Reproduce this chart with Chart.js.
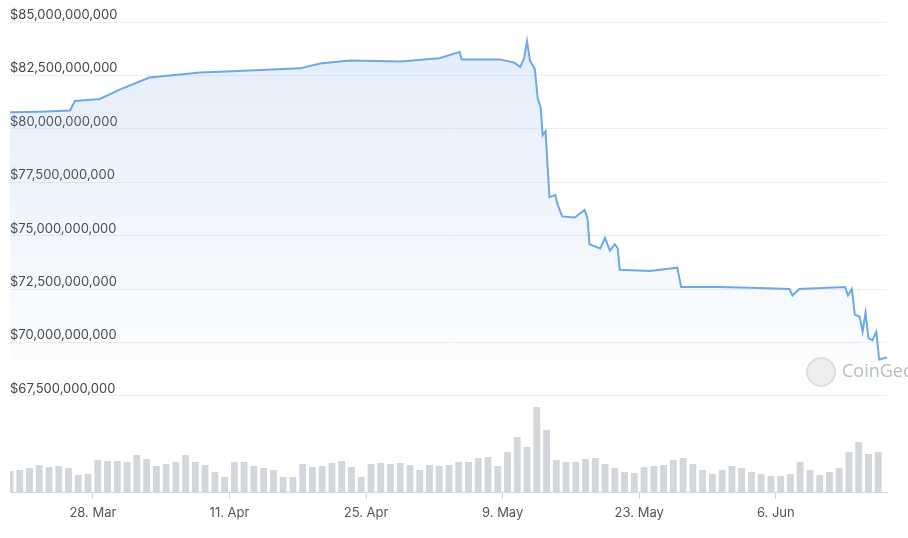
<!DOCTYPE html>
<html>
<head>
<meta charset="utf-8">
<script src="https://cdn.jsdelivr.net/npm/chart.js@4"></script>
<style>
  body { margin: 0; background: #fff; overflow: hidden; }
  #wrap { position: relative; width: 908px; height: 538px; }
  .wm { position: absolute; left: 806px; top: 357px; color: #b9bcc0; font: 18px "Open Sans", sans-serif; white-space: nowrap; }
  .wm span.logo { display: inline-block; width: 26px; height: 26px; border-radius: 50%; border: 2px solid #dcdee0; background: #eceeef; vertical-align: middle; margin-right: 6px; }
</style>
</head>
<body>
<div id="wrap">
  <canvas id="c" width="908" height="538"></canvas>
  <div class="wm"><span class="logo"></span>CoinGecko</div>
</div>
<script>
// day 0 = 19 Mar, 12:00
const priceDays = [0, 3.07, 6.15, 6.66, 9.2, 11.3, 14.3, 19.5, 24.6, 29.7, 31.8, 34.8, 40, 44, 46.1, 46.3, 50.2, 51.7, 52.3, 52.7, 53, 53.3, 53.8,
  54.1, 54.4, 54.6, 54.9, 55.1, 55.3, 55.9, 56.1, 56.6, 57.9, 58.9, 59.2, 59.4, 60.5, 61, 61.5, 62, 62.3, 62.5, 65.6, 68.4, 68.8,
  72.7, 76.8, 79.9, 80.2, 80.9, 85.6, 85.9, 86.3, 86.6, 87.1, 87.4, 87.7, 88, 88.4, 88.8, 89.1, 89.9];
const priceValues = [80.77, 80.8, 80.86, 81.3, 81.4, 81.85, 82.4, 82.64, 82.73, 82.83, 83.06, 83.2, 83.15, 83.3, 83.6, 83.25, 83.25, 83.1, 82.9, 83.3, 84.1, 83.2, 82.8,
  81.4, 81.0, 79.7, 79.9, 78.3, 76.8, 76.9, 76.5, 75.9, 75.85, 76.2, 75.8, 74.6, 74.4, 74.9, 74.3, 74.6, 74.4, 73.4, 73.35, 73.5, 72.6,
  72.6, 72.55, 72.5, 72.2, 72.5, 72.6, 72.2, 72.5, 71.3, 71.2, 70.5, 71.4, 70.2, 70.1, 70.5, 69.2, 69.3];

const volumes = [21, 22, 24, 27, 25, 26, 24, 17, 18, 32, 31, 31, 30, 37, 33, 26, 28, 30, 37, 30,
  27, 20, 15, 30, 30, 26, 24, 22, 15, 15, 28, 25, 26, 29, 31, 25, 15, 28, 29, 28,
  29, 27, 22, 27, 26, 27, 30, 30, 34, 35, 26, 40, 55, 45, 85, 62, 32, 30, 30, 33,
  34, 28, 24, 20, 19, 25, 26, 27, 32, 34, 28, 22, 18, 22, 26, 24, 20, 18, 16, 16,
  18, 30, 22, 17, 20, 24, 40, 50, 38, 40];

const tickDays = [8.5, 22.5, 36.5, 50.5, 64.5, 78.5];
const tickLabels = ['28. Mar', '11. Apr', '25. Apr', '9. May', '23. May', '6. Jun'];
const priceTicks = [67.5, 70, 72.5, 75, 77.5, 80, 82.5, 85];

const fmtUsd = v => '$' + Math.round(v * 1e9).toLocaleString('en-US');

new Chart(document.getElementById('c'), {
  data: {
    datasets: [
      {
        type: 'line',
        yAxisID: 'y',
        data: priceDays.map((d, i) => ({ x: d, y: priceValues[i] })),
        borderColor: '#6fa8e8',
        borderWidth: 2,
        pointRadius: 0,
        tension: 0,
        fill: 'start',
        backgroundColor: ctx => {
          const ca = ctx.chart.chartArea;
          if (!ca) return 'rgba(120,170,230,0.15)';
          const g = ctx.chart.ctx.createLinearGradient(0, ca.top, 0, ca.bottom - 90);
          g.addColorStop(0, 'rgba(120,170,230,0.22)');
          g.addColorStop(1, 'rgba(120,170,230,0)');
          return g;
        },
        order: 1,
      },
      {
        type: 'bar',
        yAxisID: 'v',
        data: volumes.map((v, i) => ({ x: i, y: v })),
        backgroundColor: '#d3d6da',
        barPercentage: 1,
        categoryPercentage: 0.7,
        order: 2,
      },
    ],
  },
  options: {
    responsive: false,
    animation: false,
    layout: { padding: { left: 10, right: 21, top: 22, bottom: 0 } },
    plugins: { legend: { display: false }, tooltip: { enabled: false } },
    scales: {
      x: {
        type: 'linear',
        offset: false,
        min: 0,
        max: 89.9,
        afterBuildTicks: s => { s.ticks = tickDays.map(v => ({ value: v })); },
        afterFit: s => { s.height = 46; },
        ticks: { color: '#555', font: { size: 13, family: 'Inter' }, padding: 6, maxRotation: 0, autoSkip: false,
          callback: (v, i) => tickLabels[i] },
        grid: { drawOnChartArea: false, drawTicks: true, tickLength: 7, color: '#ccd6eb', offset: false },
        border: { color: '#ccd6eb' },
      },
      y: {
        min: 63.0,
        max: 85,
        afterBuildTicks: s => { s.ticks = priceTicks.map(v => ({ value: v })); },
        afterFit: s => { s.width = 0; },
        ticks: { mirror: true, padding: 0, labelOffset: -7, color: '#444', font: { size: 13, family: 'Inter' },
          callback: v => fmtUsd(v) },
        grid: { color: '#eeeeee', drawTicks: false },
        border: { display: false },
      },
      v: {
        min: 0,
        max: 470,
        display: false,
      },
    },
  },
});
</script>
</body>
</html>
